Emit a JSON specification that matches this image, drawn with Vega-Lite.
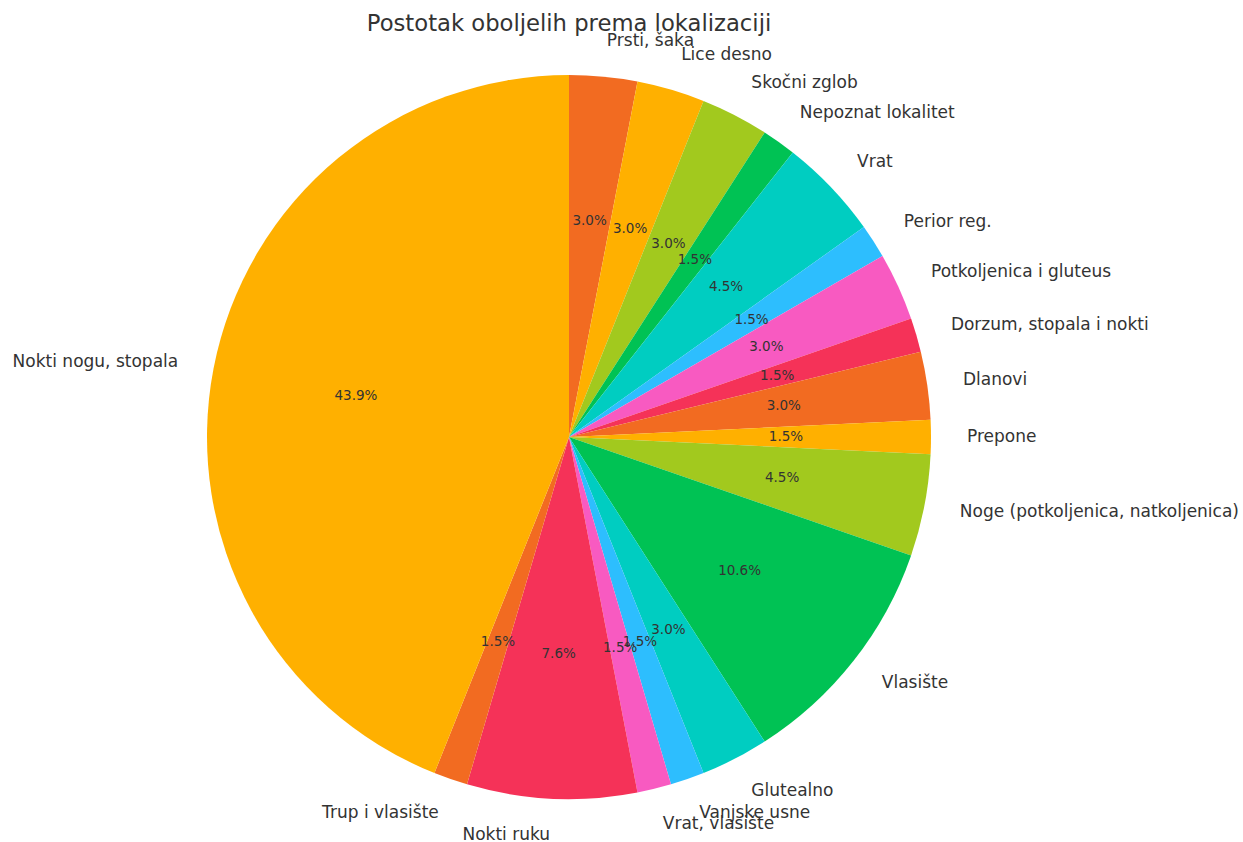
{
  "$schema": "https://vega.github.io/schema/vega-lite/v6.json",
  "autosize": {"type": "none"},
  "width": 724,
  "height": 724,
  "padding": {"left": 207, "top": 75, "right": 312, "bottom": 43},
  "background": "white",
  "title": {
    "text": "Postotak oboljelih prema lokalizaciji",
    "font": "DejaVu Sans",
    "fontSize": 22.7,
    "fontWeight": "normal",
    "color": "#333333",
    "anchor": "middle",
    "frame": "group",
    "offset": 0,
    "dy": 4
  },
  "config": {"view": {"stroke": null}},
  "data": {
    "values": [
      {"idx": 1, "label": "Prsti, šaka", "count": 2, "share": 0.0303},
      {"idx": 2, "label": "Lice desno", "count": 2, "share": 0.0303},
      {"idx": 3, "label": "Skočni zglob", "count": 2, "share": 0.0303},
      {"idx": 4, "label": "Nepoznat lokalitet", "count": 1, "share": 0.01515},
      {"idx": 5, "label": "Vrat", "count": 3, "share": 0.04545},
      {"idx": 6, "label": "Perior reg.", "count": 1, "share": 0.01515},
      {"idx": 7, "label": "Potkoljenica i gluteus", "count": 2, "share": 0.0303},
      {"idx": 8, "label": "Dorzum, stopala i nokti", "count": 1, "share": 0.01515},
      {"idx": 9, "label": "Dlanovi", "count": 2, "share": 0.0303},
      {"idx": 10, "label": "Prepone", "count": 1, "share": 0.01515},
      {"idx": 11, "label": "Noge (potkoljenica, natkoljenica)", "count": 3, "share": 0.04545},
      {"idx": 12, "label": "Vlasište", "count": 7, "share": 0.10606},
      {"idx": 13, "label": "Glutealno", "count": 2, "share": 0.0303},
      {"idx": 14, "label": "Vanjske usne", "count": 1, "share": 0.01515},
      {"idx": 15, "label": "Vrat, vlasište", "count": 1, "share": 0.01515},
      {"idx": 16, "label": "Nokti ruku", "count": 5, "share": 0.07576},
      {"idx": 17, "label": "Trup i vlasište", "count": 1, "share": 0.01515},
      {"idx": 18, "label": "Nokti nogu, stopala", "count": 29, "share": 0.43939}
    ]
  },
  "transform": [
    {"window": [{"op": "sum", "field": "count", "as": "cum"}], "sort": [{"field": "idx"}]}
  ],
  "encoding": {
    "theta": {"field": "count", "type": "quantitative", "stack": true},
    "order": {"field": "idx", "type": "quantitative"}
  },
  "layer": [
    {
      "mark": {"type": "arc", "outerRadius": 362, "stroke": null},
      "encoding": {
        "color": {
          "field": "label",
          "type": "nominal",
          "legend": null,
          "scale": {
            "domain": ["Prsti, šaka", "Lice desno", "Skočni zglob", "Nepoznat lokalitet", "Vrat", "Perior reg.", "Potkoljenica i gluteus", "Dorzum, stopala i nokti", "Dlanovi", "Prepone", "Noge (potkoljenica, natkoljenica)", "Vlasište", "Glutealno", "Vanjske usne", "Vrat, vlasište", "Nokti ruku", "Trup i vlasište", "Nokti nogu, stopala"],
            "range": ["#f26b21", "#ffb000", "#a2c91e", "#00c254", "#00cdc1", "#2dbefe", "#f85ac1", "#f53258", "#f26b21", "#ffb000", "#a2c91e", "#00c254", "#00cdc1", "#2dbefe", "#f85ac1", "#f53258", "#f26b21", "#ffb000"]
          }
        }
      }
    },
    {
      "mark": {"type": "text", "radius": 217, "font": "DejaVu Sans", "fontSize": 13.5, "color": "#333333", "align": "center", "baseline": "middle"},
      "encoding": {
        "text": {"field": "share", "type": "quantitative", "format": ".1%"}
      }
    },
    {
      "mark": {"type": "text", "radius": 398, "font": "DejaVu Sans", "fontSize": 17, "color": "#333333", "align": "left", "baseline": "middle"},
      "encoding": {
        "text": {"condition": {"test": "datum.cum - datum.count / 2 <= 33", "field": "label"}, "value": ""}
      }
    },
    {
      "mark": {"type": "text", "radius": 398, "font": "DejaVu Sans", "fontSize": 17, "color": "#333333", "align": "right", "baseline": "middle"},
      "encoding": {
        "text": {"condition": {"test": "datum.cum - datum.count / 2 > 33", "field": "label"}, "value": ""}
      }
    }
  ]
}
